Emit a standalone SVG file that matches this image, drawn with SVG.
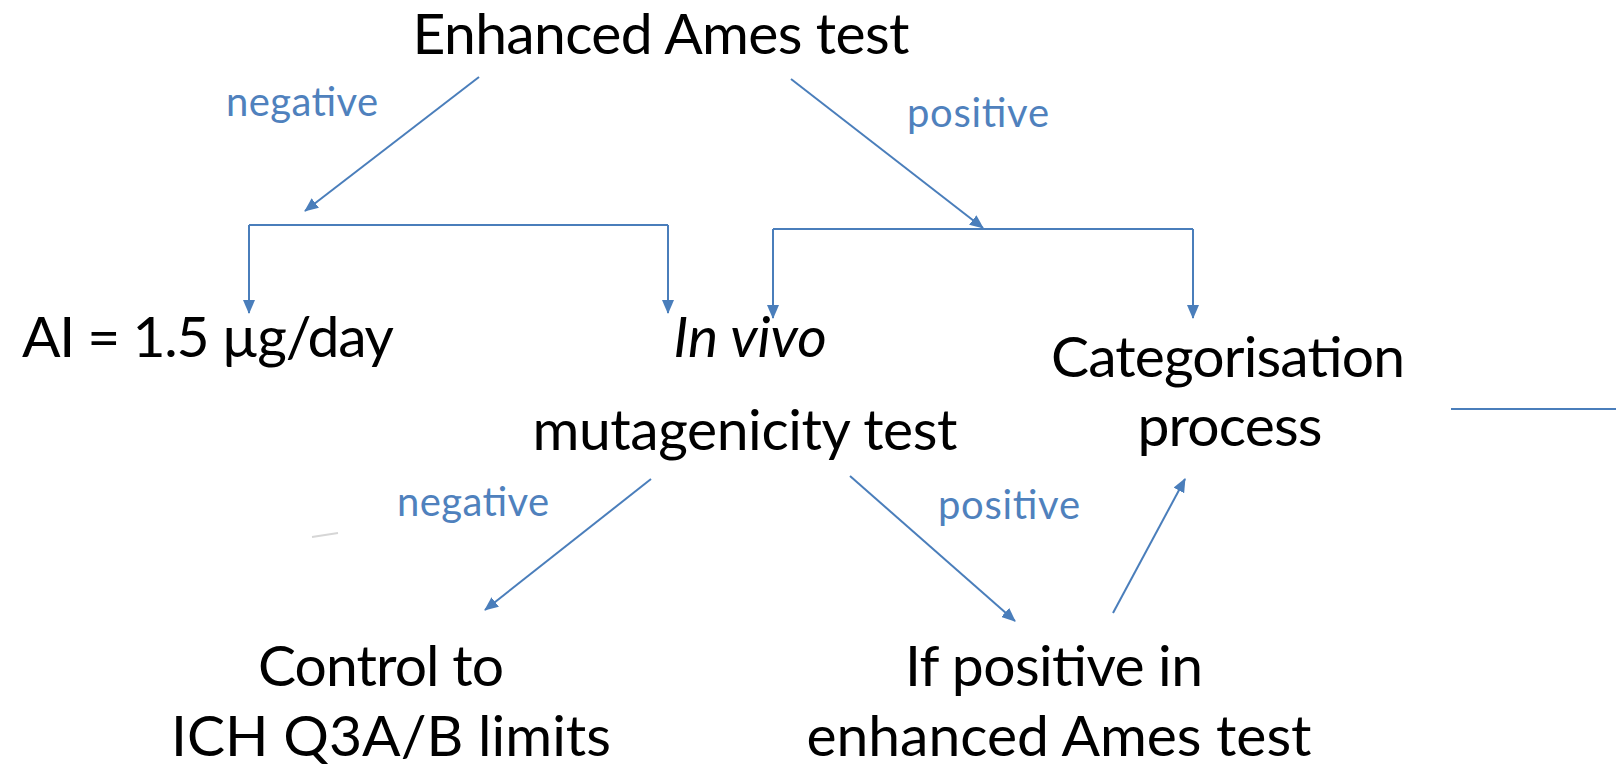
<svg xmlns="http://www.w3.org/2000/svg" width="1616" height="768" viewBox="0 0 1616 768">
  <defs>
    <style>
      .node { font-family: Lato, "Liberation Sans", sans-serif; font-size: 57px; fill: #000000; text-anchor: middle; }
      .lbl { font-family: Lato, "Liberation Sans", sans-serif; font-size: 40px; fill: #4F81BD; text-anchor: middle; }
      .edge { stroke: #4A7EBB; stroke-width: 2; fill: none; }
      .arrow { marker-end: url(#head); }
    </style>
    <marker id="head" markerUnits="userSpaceOnUse" markerWidth="14" markerHeight="12" refX="13" refY="6" orient="auto">
      <path d="M0,0 L14,6 L0,12 Z" fill="#4A7EBB"/>
    </marker>
  </defs>

  <rect width="1616" height="768" fill="#ffffff"/>

  <!-- connectors -->
  <g id="connectors">
    <!-- Ames negative branch -->
    <line class="edge arrow" x1="479" y1="77" x2="305" y2="211"/>
    <path class="edge" d="M249,225 H668"/>
    <line class="edge arrow" x1="249" y1="225" x2="249" y2="313"/>
    <line class="edge arrow" x1="668" y1="225" x2="668" y2="313"/>
    <!-- Ames positive branch -->
    <line class="edge arrow" x1="791" y1="79" x2="983" y2="228"/>
    <path class="edge" d="M773,229 H1193"/>
    <line class="edge arrow" x1="773" y1="229" x2="773" y2="318"/>
    <line class="edge arrow" x1="1193" y1="229" x2="1193" y2="318"/>
    <!-- in vivo outcomes -->
    <line class="edge arrow" x1="651" y1="479" x2="485" y2="610"/>
    <line class="edge arrow" x1="850" y1="476" x2="1015" y2="621"/>
    <line class="edge arrow" x1="1113" y1="613" x2="1185" y2="479"/>
    <!-- free line at right edge -->
    <line class="edge" x1="1451" y1="409" x2="1616" y2="409"/>
    <!-- faint stroke -->
    <line x1="312" y1="537" x2="338" y2="533" stroke="#d6d6d6" stroke-width="2"/>
  </g>

  <!-- edge labels -->
  <g id="labels">
    <text class="lbl" x="302" y="116" textLength="152">negative</text>
    <text class="lbl" x="978" y="127" textLength="142">positive</text>
    <text class="lbl" x="473" y="516" textLength="152">negative</text>
    <text class="lbl" x="1009" y="519" textLength="142">positive</text>
  </g>

  <g id="ames">
    <text class="node" x="661" y="54" textLength="497">Enhanced Ames test</text>
  </g>
  <g id="ai">
    <text class="node" x="22" y="357" style="text-anchor:start" textLength="372">AI = 1.5 µg/day</text>
  </g>
  <g id="invivo">
    <text class="node" x="750" y="357" font-style="italic">In vivo</text>
    <text class="node" x="745" y="450" textLength="425">mutagenicity test</text>
  </g>
  <g id="categorisation">
    <text class="node" x="1228" y="377" textLength="354">Categorisation</text>
    <text class="node" x="1230" y="446" textLength="185">process</text>
  </g>
  <g id="control">
    <text class="node" x="381" y="686" textLength="246">Control to</text>
    <text class="node" x="391" y="756" textLength="440">ICH Q3A/B limits</text>
  </g>
  <g id="ifpositive">
    <text class="node" x="1054" y="686" textLength="298">If positive in</text>
    <text class="node" x="1059" y="756" textLength="505">enhanced Ames test</text>
  </g>
</svg>
